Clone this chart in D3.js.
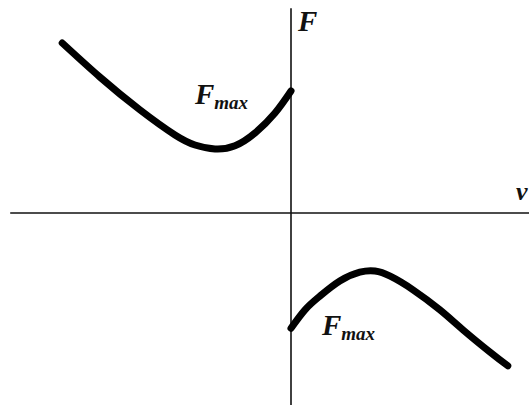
<!DOCTYPE html>
<html>
  <head>
    <meta charset="utf-8">
    <title>F(v)</title>
    <script src="https://d3js.org/d3.v7.min.js"></script>
    <style>
      body { margin: 0; background: #fff; }
      svg { display: block; }
      .lbl { font-family: "Liberation Serif", "DejaVu Serif", serif; font-weight: bold; font-style: italic; fill: #111; }
    </style>
  </head>
  <body>
    <svg id="chart" width="529" height="405"></svg>
    <script>
      // branch for v < 0
      leftV = [-5.72, -4.78, -3.78, -2.9, -2.4, -1.9, -1.4, -0.9, -0.4, 0];
      leftF = [4.25, 3.4, 2.58, 1.95, 1.7, 1.6, 1.68, 2.0, 2.5, 3.05];
      // branch for v > 0
      rightV = [0, 0.35, 0.72, 1.22, 1.72, 2.1, 2.48, 3.05, 3.72, 4.3, 4.98, 5.42];
      rightF = [-2.88, -2.42, -2.08, -1.7, -1.48, -1.45, -1.58, -1.92, -2.42, -2.92, -3.48, -3.82];
      vExtent = [-7.02, 5.95];
      fExtent = [-4.8, 5.12];
      width = 529;
      height = 405;
      x = d3.scaleLinear().domain([0, 1]).range([291, 331]);
      y = d3.scaleLinear().domain([0, 1]).range([213, 173]);
      svg = d3.select("#chart");
      // axes
      svg.append("line")
        .attr("x1", x(vExtent[0])).attr("x2", x(vExtent[1]))
        .attr("y1", y(0)).attr("y2", y(0))
        .attr("stroke", "#111").attr("stroke-width", 1.6);
      svg.append("line")
        .attr("x1", x(0)).attr("x2", x(0))
        .attr("y1", y(fExtent[1])).attr("y2", y(fExtent[0]))
        .attr("stroke", "#111").attr("stroke-width", 1.6);
      line = d3.line()
        .x(function(d) { return x(d[0]); })
        .y(function(d) { return y(d[1]); })
        .curve(d3.curveNatural);
      [d3.zip(leftV, leftF), d3.zip(rightV, rightF)].forEach(function(pts) {
        svg.append("path")
          .attr("d", line(pts))
          .attr("fill", "none")
          .attr("stroke", "#000")
          .attr("stroke-width", 7)
          .attr("stroke-linecap", "round");
      });
      // labels
      svg.append("text").classed("lbl", true)
        .attr("x", 298).attr("y", 31)
        .style("font-size", "29px")
        .text("F");
      svg.append("text").classed("lbl", true)
        .attr("x", 516).attr("y", 200)
        .style("font-size", "26px")
        .text("v");
      [[195, 104], [322, 335]].forEach(function(p) {
        t = svg.append("text").classed("lbl", true)
          .attr("x", p[0]).attr("y", p[1])
          .style("font-size", "29px");
        t.append("tspan").text("F");
        t.append("tspan").attr("dy", 5).style("font-size", "19px").text("max");
      });
    </script>
  </body>
</html>
